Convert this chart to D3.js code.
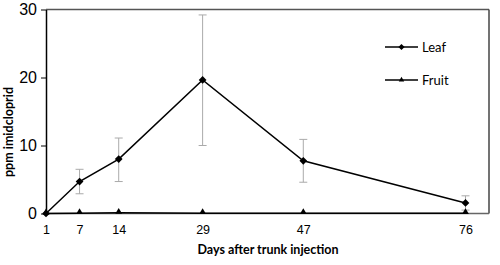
<!DOCTYPE html>
<html>
<head>
<meta charset="utf-8">
<style>
  body { margin: 0; background: #fff; }
  svg { font-family: Lato, "Liberation Sans", sans-serif; }
  .axis path, .axis line { stroke: #000; }
  .errbar { stroke: #aaa; stroke-width: 1; }
  .line { fill: none; stroke: #000; stroke-width: 1.5px; }
</style>
</head>
<body>
<svg width="500" height="265"></svg>
<script src="https://cdn.jsdelivr.net/npm/d3@7"></script>
<script>

var days = [1, 7, 14, 29, 47, 76]
var leaf = [0, 4.7, 8.0, 19.65, 7.75, 1.55]
var leafLow = [0, 2.9, 4.7, 10.0, 4.6, 0.5]
var leafHigh = [0, 6.5, 11.1, 29.2, 10.9, 2.6]
var fruit = [0, 0.05, 0.1, 0.05, 0.05, 0.05]
var yTicks = [0, 10, 20, 30]

var svg = d3.select("svg"),
    margin = {top: 9.5, right: 11, bottom: 51.5, left: 46}
var width = 500 - margin.left - margin.right,
    height = 265 - margin.top - margin.bottom

var x = d3.scaleLinear().domain([1, 76]).range([0, width - 23.5])
var y = d3.scaleLinear().domain([0, 30]).range([height, 0])

var g = svg.append("g")
    .attr("transform", "translate(" + margin.left + "," + margin.top + ")")

// frame top + right
g.append("line").attr("x1", 0).attr("x2", width).attr("y1", 0).attr("y2", 0)
  .attr("stroke", "#555").attr("stroke-width", 1.5)
g.append("line").attr("x1", width).attr("x2", width).attr("y1", 0).attr("y2", height)
  .attr("stroke", "#444").attr("stroke-width", 1.5)

// x axis
var gx = g.append("g").attr("class", "axis")
  .attr("transform", "translate(0," + height + ")")
  .call(d3.axisBottom(x).tickValues(days).tickSize(0).tickPadding(12))
gx.select(".domain").remove()
g.append("line").attr("x1", 0).attr("x2", width).attr("y1", height).attr("y2", height)
  .attr("stroke", "#666").attr("stroke-width", 1.5)
gx.selectAll("text").attr("font-size", 12.5).attr("fill", "#000")

// y axis
var gy = g.append("g").attr("class", "axis")
  .call(d3.axisLeft(y).tickValues(yTicks).tickSize(5).tickSizeOuter(0).tickPadding(4))
gy.selectAll("text").attr("font-size", 16).attr("fill", "#000")
gy.select(".domain").attr("stroke-width", 1.5)

// error bars
var eb = g.selectAll(".eb").data(days.slice(1)).enter().append("g").attr("class", "eb")
eb.append("line").attr("class", "errbar")
  .attr("x1", function(d) { return x(d) }).attr("x2", function(d) { return x(d) })
  .attr("y1", function(d, i) { return y(leafLow[i + 1]) })
  .attr("y2", function(d, i) { return y(leafHigh[i + 1]) })
eb.append("line").attr("class", "errbar")
  .attr("x1", function(d) { return x(d) - 4 }).attr("x2", function(d) { return x(d) + 4 })
  .attr("y1", function(d, i) { return y(leafHigh[i + 1]) })
  .attr("y2", function(d, i) { return y(leafHigh[i + 1]) })
eb.append("line").attr("class", "errbar")
  .attr("x1", function(d) { return x(d) - 4 }).attr("x2", function(d) { return x(d) + 4 })
  .attr("y1", function(d, i) { return y(leafLow[i + 1]) })
  .attr("y2", function(d, i) { return y(leafLow[i + 1]) })

var line = d3.line()
  .x(function(d) { return x(d[0]) })
  .y(function(d) { return y(d[1]) })

var fruitData = days.map(function(d, i) { return [d, fruit[i]] })
var leafData = days.map(function(d, i) { return [d, leaf[i]] })

g.append("path").datum(fruitData).attr("class", "line").attr("d", line)
g.append("path").datum(leafData).attr("class", "line").attr("d", line)

// excel-ish diamond: square turned 45deg
var diamond = d3.symbol().type(d3.symbolSquare).size(30)()
var tri = d3.symbol().type(d3.symbolTriangle).size(20)()

g.selectAll(".fdot").data(fruitData).enter().append("path")
  .attr("d", tri)
  .attr("transform", function(d) { return "translate(" + x(d[0]) + "," + (y(d[1]) - 1) + ")" })
g.selectAll(".ldot").data(leafData).enter().append("path")
  .attr("d", diamond)
  .attr("transform", function(d) { return "translate(" + x(d[0]) + "," + y(d[1]) + ") rotate(45)" })

// legend
var legend = [["Leaf", diamond, " rotate(45)"], ["Fruit", tri, ""]]
var lg = g.selectAll(".lg").data(legend).enter().append("g")
  .attr("transform", function(d, i) { return "translate(339," + (37.5 + i * 33) + ")" })
lg.append("line").attr("x1", 0).attr("x2", 33).attr("stroke", "#000").attr("stroke-width", 1.5)
lg.append("path").attr("d", function(d) { return d[1] })
  .attr("transform", function(d) { return "translate(16.5,0)" + d[2] + " scale(0.8)" })
lg.append("text").attr("x", 37).attr("dy", "0.35em").attr("font-size", 13).text(function(d) { return d[0] })

// axis titles
svg.append("text").attr("x", 268).attr("y", 254).attr("text-anchor", "middle")
  .attr("font-size", 12.5).attr("font-weight", "bold").text("Days after trunk injection")
svg.append("text").attr("transform", "translate(13,132) rotate(-90)").attr("text-anchor", "middle")
  .attr("font-size", 12.5).attr("font-weight", "bold").text("ppm imidcloprid")

</script>
</body>
</html>
